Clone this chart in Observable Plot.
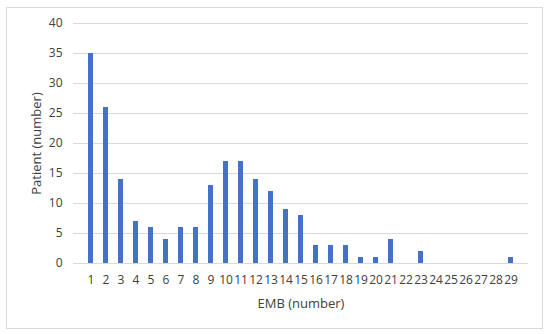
<!DOCTYPE html>
<html><head><meta charset="utf-8">
<script src="https://cdn.jsdelivr.net/npm/d3@7"></script>
<script src="https://cdn.jsdelivr.net/npm/@observablehq/plot@0.6"></script>
<style>
html,body{margin:0;padding:0;background:#fff;}
#wrap{position:relative;width:550px;height:334px;}
#border{position:absolute;left:6px;top:7px;width:537px;height:322px;border:1px solid #d9d9d9;box-sizing:border-box;pointer-events:none;}
g[aria-label="x-axis label"] text, g[aria-label="y-axis label"] text{font-size:13px;}
</style></head>
<body><div id="wrap"><div id="border"></div></div>
<script>
const categories = [1,2,3,4,5,6,7,8,9,10,11,12,13,14,15,16,17,18,19,20,21,22,23,24,25,26,27,28,29];
const patients = [35,26,14,7,6,4,6,6,13,17,17,14,12,9,8,3,3,3,1,1,4,0,2,0,0,0,0,0,1];
const yTicks = [0,5,10,15,20,25,30,35,40];
const data = categories.map((c,i)=>({emb:String(c), n:patients[i]}));
const chart = Plot.plot({
  width: 550, height: 334,
  marginTop: 23, marginBottom: 71, marginLeft: 73, marginRight: 22,
  style: {fontFamily: "'Open Sans', sans-serif", fontSize: "12px", color: "#404040", background: "transparent"},
  x: {domain: categories.map(String), padding: 0.7, label: "EMB (number)", labelArrow: false, labelAnchor: "center", labelOffset: 44, tickSize: 0, tickPadding: 12},
  y: {domain: [0,40], ticks: yTicks, label: "Patient (number)", labelArrow: false, labelAnchor: "center", labelOffset: 42, tickSize: 0, tickPadding: 11, grid: false},
  marks: [
    Plot.gridY(yTicks, {stroke: "#d9d9d9", strokeOpacity: 1}),
    Plot.barY(data, {x: "emb", y: "n", fill: "#4472c4"}),
    Plot.ruleY([0], {stroke: "#d9d9d9"})
  ]
});
chart.style.position = "absolute"; chart.style.left = "0"; chart.style.top = "0";
document.getElementById("wrap").appendChild(chart);
</script></body></html>
